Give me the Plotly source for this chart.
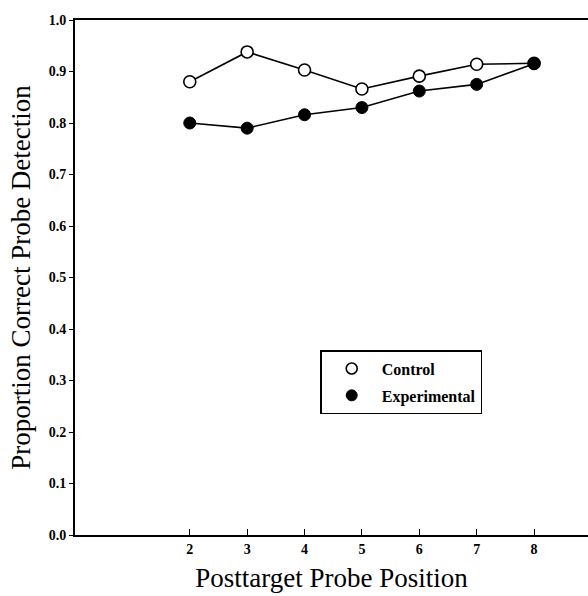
import plotly.graph_objects as go

positions = [2, 3, 4, 5, 6, 7, 8]
control = [0.880, 0.938, 0.903, 0.866, 0.891, 0.914, 0.916]
experimental = [0.800, 0.790, 0.816, 0.830, 0.862, 0.875, 0.915]
y_ticks = [0.0, 0.1, 0.2, 0.3, 0.4, 0.5, 0.6, 0.7, 0.8, 0.9, 1.0]

serif = "Liberation Serif"
open_marker = dict(symbol="circle", size=12, color="white", line=dict(color="black", width=1.6))
filled_marker = dict(symbol="circle", size=12, color="black", line=dict(color="black", width=1))

fig = go.Figure()
fig.add_trace(go.Scatter(
    x=positions, y=control, name="Control", mode="lines+markers",
    line=dict(color="black", width=1.6), marker=open_marker, showlegend=False,
))
fig.add_trace(go.Scatter(
    x=positions, y=experimental, name="Experimental", mode="lines+markers",
    line=dict(color="black", width=1.6), marker=filled_marker, showlegend=False,
))
# legend entries (markers only, as in the reference)
fig.add_trace(go.Scatter(x=[None], y=[None], name="Control", mode="markers", legendgroup="c",
                         marker=dict(symbol="circle", size=11, color="white",
                                     line=dict(color="black", width=1.6))))
fig.add_trace(go.Scatter(x=[None], y=[None], name="Experimental", mode="markers", legendgroup="e",
                         marker=dict(symbol="circle", size=11, color="black",
                                     line=dict(color="black", width=1))))

fig.update_layout(
    width=588, height=596,
    margin=dict(l=75, r=0, t=20, b=61),
    plot_bgcolor="white", paper_bgcolor="white",
    showlegend=True,
    legend=dict(
        x=0.478, y=0.359, xanchor="left", yanchor="top",
        bordercolor="black", borderwidth=1.5, bgcolor="white",
        font=dict(family=serif, size=16, color="black", weight="bold"),
        tracegroupgap=3, itemwidth=50,
    ),
    xaxis=dict(
        range=[0, 8.94], tickvals=positions, ticktext=[str(p) for p in positions],
        ticks="inside", ticklen=6, tickwidth=1.2, tickcolor="black",
        showline=True, linecolor="black", linewidth=2, mirror=True,
        showgrid=False, zeroline=False,
        tickfont=dict(family=serif, size=14, color="black", weight="bold"),
        title=dict(text="Posttarget Probe Position", standoff=12,
                   font=dict(family=serif, size=27, color="black")),
    ),
    yaxis=dict(
        range=[0, 1.0], tickvals=y_ticks, tickformat=".1f",
        ticks="outside", ticklen=4, tickwidth=1.2, tickcolor="black",
        showline=True, linecolor="black", linewidth=2, mirror=False,
        showgrid=False, zeroline=False,
        tickfont=dict(family=serif, size=14, color="black", weight="bold"),
        title=dict(text="Proportion Correct Probe Detection", standoff=10,
                   font=dict(family=serif, size=27, color="black")),
    ),
)

fig.write_html("out.html", config={"displayModeBar": False},
               post_script="document.body.style.margin='0';")
